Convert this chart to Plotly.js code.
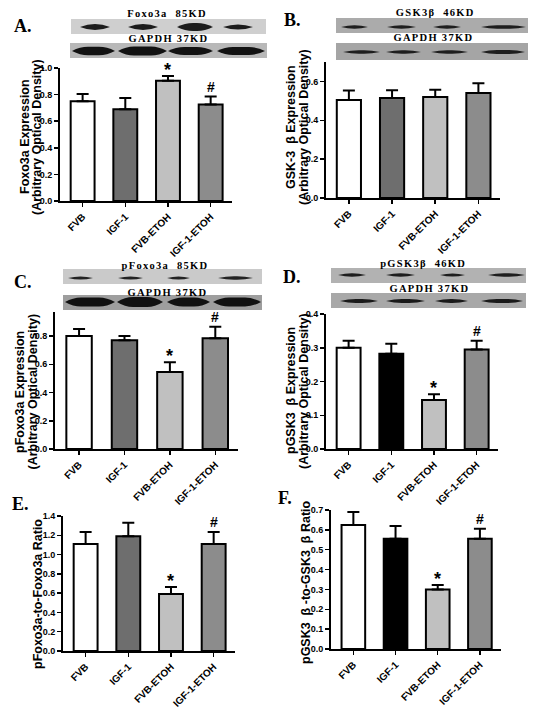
<!DOCTYPE html>
<html>
<head>
<meta charset="utf-8">
<script src="https://cdn.plot.ly/plotly-3.0.1.min.js"></script>
<style>html,body{margin:0;padding:0;background:#fff;}#chart{width:537px;height:721px;}</style>
</head>
<body>
<div id="chart"></div>
<script>
// ---------------- DATA ----------------
const categories = ["FVB", "IGF-1", "FVB-ETOH", "IGF-1-ETOH"];

const foxo3aVals = [0.75, 0.69, 0.905, 0.725];
const foxo3aErr  = [0.055, 0.085, 0.035, 0.06];
const foxo3aSig  = ["", "", "*", "#"];

const gsk3bVals = [0.505, 0.515, 0.52, 0.54];
const gsk3bErr  = [0.048, 0.04, 0.037, 0.05];
const gsk3bSig  = ["", "", "", ""];

const pFoxo3aVals = [0.80, 0.77, 0.545, 0.785];
const pFoxo3aErr  = [0.05, 0.03, 0.07, 0.08];
const pFoxo3aSig  = ["", "", "*", "#"];

const pGsk3bVals = [0.30, 0.282, 0.145, 0.295];
const pGsk3bErr  = [0.021, 0.03, 0.017, 0.026];
const pGsk3bSig  = ["", "", "*", "#"];

const foxoRatioVals = [1.11, 1.19, 0.59, 1.11];
const foxoRatioErr  = [0.125, 0.14, 0.075, 0.125];
const foxoRatioSig  = ["", "", "*", "#"];

const gskRatioVals = [0.625, 0.555, 0.30, 0.555];
const gskRatioErr  = [0.065, 0.065, 0.022, 0.05];
const gskRatioSig  = ["", "", "*", "#"];

const yTickStep = [0.2, 0.2, 0.2, 0.1, 0.2, 0.1];
const yRanges = [[0, 1.0], [0, 0.7], [0, 0.97], [0, 0.4], [0, 1.4], [0, 0.7]];

const panelLetters = ["A.", "B.", "C.", "D.", "E.", "F."];
const yTitleLine1 = [
  "Foxo3a Expression",
  "GSK-3  β Expression",
  "pFoxo3a Expression",
  "pGSK3  β Expression",
  "pFoxo3a-to-Foxo3a Ratio",
  "pGSK3  β -to-GSK3  β Ratio"
];
const yTitleLine2 = [
  "(Arbitrary Optical Density)",
  "(Arbitrary Optical Density)",
  "(Arbitrary Optical Density)",
  "(Arbitrary Optical Density)",
  "",
  ""
];
const blotLabels = [
  ["Foxo3a  85KD", "GAPDH 37KD"],
  ["GSK3β  46KD", "GAPDH 37KD"],
  ["pFoxo3a  85KD", "GAPDH 37KD"],
  ["pGSK3β  46KD", "GAPDH 37KD"]
];

// ---------------- STYLE / LAYOUT ----------------
const W = 537, H = 721;
const px = x => x / W;
const py = y => 1 - y / H;
const SANS = "Arial";
const SERIF = "Times New Roman";

const STD = ["#ffffff", "#6e6e6e", "#c0c0c0", "#8c8c8c"];
const BLK = ["#ffffff", "#000000", "#c0c0c0", "#8c8c8c"];
const SIG_STYLE = {"*": {size: 18, shift: 6}, "#": {size: 14, shift: 10}};

// t1/t2: x centres of title lines, ty: y centre (pixels)
const panels = [
  {vals: foxo3aVals, errs: foxo3aErr, sig: foxo3aSig, colors: STD, xd: [60, 232], yd: [68, 201], t1: 25, t2: 37, ty: 137, letter: [23, 26]},
  {vals: gsk3bVals, errs: gsk3bErr, sig: gsk3bSig, colors: STD, xd: [326, 500], yd: [62, 198], t1: 291, t2: 304, ty: 127, letter: [292, 20]},
  {vals: pFoxo3aVals, errs: pFoxo3aErr, sig: pFoxo3aSig, colors: STD, xd: [55, 238], yd: [312, 449], t1: 20, t2: 32.5, ty: 392, letter: [23, 282]},
  {vals: pGsk3bVals, errs: pGsk3bErr, sig: pGsk3bSig, colors: BLK, xd: [326, 498], yd: [314, 449], t1: 291, t2: 304, ty: 391, letter: [292, 277]},
  {vals: foxoRatioVals, errs: foxoRatioErr, sig: foxoRatioSig, colors: STD, xd: [63, 235], yd: [516, 651], t1: 38, t2: 0, ty: 594, letter: [20, 504]},
  {vals: gskRatioVals, errs: gskRatioErr, sig: gskRatioSig, colors: BLK, xd: [331, 501], yd: [510, 649], t1: 306, t2: 0, ty: 582, letter: [285, 498]}
];

// blot strips (decorative western-blot imitation), pixel positions
const blots = [
  {x: [71, 266], y: [19, 34], bg: "#cfcfcf", yc: 27, bands: [[80,110,3],[128,158,3],[177,213,4],[223,253,2.6]], col: "#1c1c1c", label: [167, 14]},
  {x: [70, 267], y: [43, 58], bg: "#b8b8b8", yc: 51, bands: [[72,115,4.2],[118,167,4.5],[168,213,4],[217,265,4]], col: "#121212", label: [168, 39]},
  {x: [336, 528], y: [18, 33], bg: "#ababab", yc: 27, bands: [[341,368,1.8],[387,416,1.8],[433,461,1.8],[481,526,1.8]], col: "#1e1e1e", label: [435, 13]},
  {x: [336, 528], y: [43, 60], bg: "#a5a5a5", yc: 52, bands: [[343,380,1.8],[386,421,1.8],[431,468,1.8],[481,525,2]], col: "#1e1e1e", label: [433, 38]},
  {x: [63, 262], y: [269, 284], bg: "#cacaca", yc: 278, bands: [[68,93,1.6],[118,143,1.6],[167,190,1.6],[218,253,1.8]], col: "#222222", label: [165, 265]},
  {x: [63, 262], y: [295, 310], bg: "#9e9e9e", yc: 302, bands: [[65,115,4.5],[117,163,5],[167,210,4.5],[213,261,4.5]], col: "#111111", label: [167, 292]},
  {x: [331, 526], y: [268, 283], bg: "#b2b2b2", yc: 275, bands: [[338,366,1.8],[386,415,1.8],[440,465,1.6],[488,525,1.8]], col: "#1e1e1e", label: [423, 263]},
  {x: [331, 526], y: [293, 308], bg: "#a8a8a8", yc: 301, bands: [[340,378,2],[386,425,2],[435,468,2],[481,523,2]], col: "#1a1a1a", label: [429, 288]}
];

const data = [];
const layout = {
  width: W, height: H,
  margin: {l: 0, r: 0, t: 0, b: 0},
  paper_bgcolor: "#fff", plot_bgcolor: "rgba(0,0,0,0)",
  showlegend: false,
  font: {family: SANS, color: "#000"},
  annotations: [],
  shapes: []
};

function titleAnn(text, x, y) {
  return {
    xref: "paper", yref: "paper", x: px(x), y: py(y),
    text: text, textangle: -90, showarrow: false,
    xanchor: "center", yanchor: "middle",
    font: {size: 12.5, family: SANS, color: "#000", weight: "bold"}
  };
}

panels.forEach((p, i) => {
  const n = i === 0 ? "" : String(i + 1);
  const xa = "x" + n, ya = "y" + n;
  data.push({
    type: "bar", x: categories, y: p.vals, width: 0.56,
    xaxis: xa, yaxis: ya,
    marker: {color: p.colors, line: {color: "#000", width: 2}},
    error_y: {type: "data", symmetric: false, array: p.errs, color: "#000", thickness: 2, width: 6}
  });
  // significance markers placed on top of each error bar
  p.sig.forEach((s, k) => {
    if (!s) return;
    layout.annotations.push({
      xref: xa, yref: ya, x: categories[k], y: p.vals[k] + p.errs[k],
      text: "<b>" + s + "</b>", showarrow: false,
      xanchor: "center", yanchor: "middle", yshift: SIG_STYLE[s].shift,
      font: {size: SIG_STYLE[s].size, family: SANS, color: "#000"}
    });
  });
  layout["xaxis" + n] = {
    domain: [px(p.xd[0]), px(p.xd[1])], anchor: ya, type: "category",
    range: [-0.53, 3.5], showline: true, linecolor: "#000", linewidth: 2,
    ticks: "outside", ticklen: 4, tickwidth: 1.5, tickcolor: "#000",
    tickangle: -45, showgrid: false, zeroline: false, fixedrange: true,
    tickfont: {size: 10, family: SANS, color: "#000", weight: "bold"}
  };
  layout["yaxis" + n] = {
    domain: [py(p.yd[1]), py(p.yd[0])], anchor: xa,
    range: yRanges[i], tick0: 0, dtick: yTickStep[i], tickformat: ".1f",
    showline: true, linecolor: "#000", linewidth: 2,
    ticks: "outside", ticklen: 4, tickwidth: 1.5, tickcolor: "#000",
    showgrid: false, zeroline: false, fixedrange: true,
    tickfont: {size: 9, family: SANS, color: "#000", weight: "bold"}
  };
  layout.annotations.push(titleAnn(yTitleLine1[i], p.t1, p.ty));
  if (yTitleLine2[i]) layout.annotations.push(titleAnn(yTitleLine2[i], p.t2, p.ty));
  layout.annotations.push({
    xref: "paper", yref: "paper", x: px(p.letter[0]), y: py(p.letter[1]),
    text: "<b>" + panelLetters[i] + "</b>", showarrow: false,
    xanchor: "center", yanchor: "middle",
    font: {size: 18, family: SERIF, color: "#000"}
  });
});

blots.forEach((b, j) => {
  layout.shapes.push({
    type: "rect", xref: "paper", yref: "paper",
    x0: px(b.x[0]), x1: px(b.x[1]), y0: py(b.y[1]), y1: py(b.y[0]),
    fillcolor: b.bg, line: {width: 0}, layer: "below"
  });
  b.bands.forEach(bd => {
    const a = bd[0], e = bd[1], h = bd[2], d = Math.min(8, (e - a) / 4);
    const P = (x, y) => px(x).toFixed(5) + "," + py(y).toFixed(5);
    const path = "M" + P(a, b.yc) +
      " Q" + P(a + d, b.yc - h) + " " + P(a + 2 * d, b.yc - h) +
      " L" + P(e - 2 * d, b.yc - h) +
      " Q" + P(e - d, b.yc - h) + " " + P(e, b.yc) +
      " Q" + P(e - d, b.yc + h) + " " + P(e - 2 * d, b.yc + h) +
      " L" + P(a + 2 * d, b.yc + h) +
      " Q" + P(a + d, b.yc + h) + " " + P(a, b.yc) + " Z";
    layout.shapes.push({
      type: "path", xref: "paper", yref: "paper", path: path,
      fillcolor: b.col, line: {width: 0}, layer: "below"
    });
  });
  layout.annotations.push({
    xref: "paper", yref: "paper", x: px(b.label[0]), y: py(b.label[1]),
    text: "<b>" + blotLabels[Math.floor(j / 2)][j % 2] + "</b>", showarrow: false,
    xanchor: "center", yanchor: "middle",
    font: {size: 10.5, family: SERIF, color: "#000"}
  });
});

Plotly.newPlot("chart", data, layout, {staticPlot: true, displayModeBar: false}).then(gd => {
  const blotTexts = new Set(blotLabels.flat());
  gd.querySelectorAll(".annotation-text").forEach(t => {
    if (blotTexts.has(t.textContent)) t.style.letterSpacing = "1.3px";
  });
});
</script>
</body>
</html>
